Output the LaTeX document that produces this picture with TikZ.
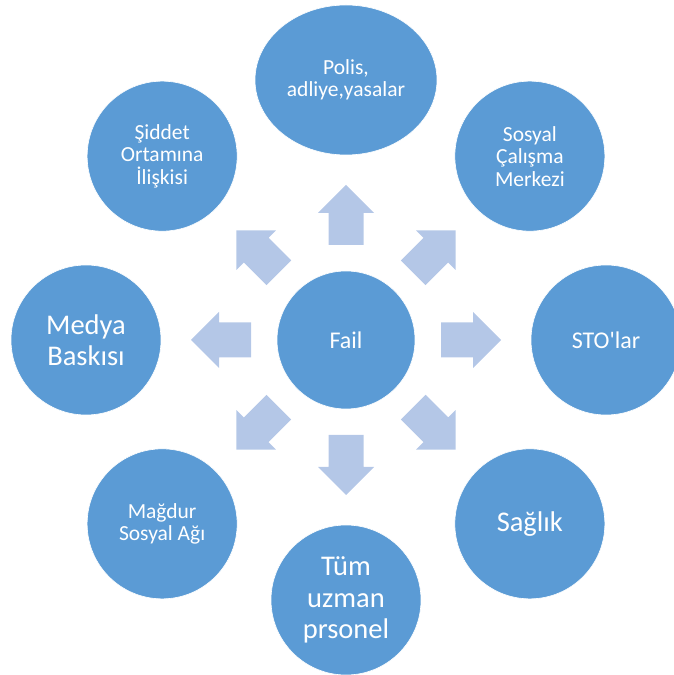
\documentclass[tikz,border=0pt]{standalone}
\usepackage{fontspec}
\setmainfont{Carlito}
\usetikzlibrary{positioning, calc, shapes.geometric}
\definecolor{circleblue}{HTML}{5B9BD5}
\definecolor{arrowblue}{HTML}{B4C7E7}

\begin{document}
\begin{tikzpicture}[x=1pt, y=1pt,
            actor/.style ={circle, fill=circleblue, draw=white, line width=0.6pt, text=white,
            minimum size=150, inner sep=0pt, align=center, font=\fontsize{21.5}{22.5}\selectfont},
            bigtext/.style ={font=\fontsize{28.5}{31.5}\selectfont},
            blockarrow/.style ={fill=arrowblue, draw=none}]

        \useasboundingbox (0,0) rectangle (674,675);
        \clip (0,0) rectangle (674,675);

        %merkez
        \node[actor, minimum size=138, font=\fontsize{24}{26}\selectfont] (fail) at (346, 335) {Fail};

        %dis halka, yaricap 260
        \node[actor, ellipse, minimum width=182, minimum height=150] (polis) at ($(fail)+(90:260)$) {Polis,\\adliye,yasalar};
        \node[actor] (sosyal) at ($(fail)+(45:260)$) {Sosyal\\Çalışma\\Merkezi};
        \node[actor, font=\fontsize{24}{26}\selectfont] (sto) at ($(fail)+(0:260)$) {STO\textquotesingle lar};
        \node[actor, bigtext] (saglik) at ($(fail)+(-45:260)$) {Sağlık};
        \node[actor, bigtext] (uzman) at ($(fail)+(-90:260)$) {Tüm\\uzman\\prsonel};
        \node[actor] (magdur) at ($(fail)+(-135:260)$) {Mağdur\\Sosyal Ağı};
        \node[actor, bigtext] (medya) at ($(fail)+(180:260)$) {Medya\\Baskısı};
        \node[actor] (siddet) at ($(fail)+(135:260)$) {Şiddet\\Ortamına\\İlişkisi};

        %blok oklar
        \foreach \a in {0,45,...,315}
            \fill[blockarrow, shift={(fail)}, rotate=\a]
                (95,-17.5) -- (127,-17.5) -- (127,-28) -- (155,0) -- (127,28) -- (127,17.5) -- (95,17.5) -- cycle;
    \end{tikzpicture}
\end{document}
